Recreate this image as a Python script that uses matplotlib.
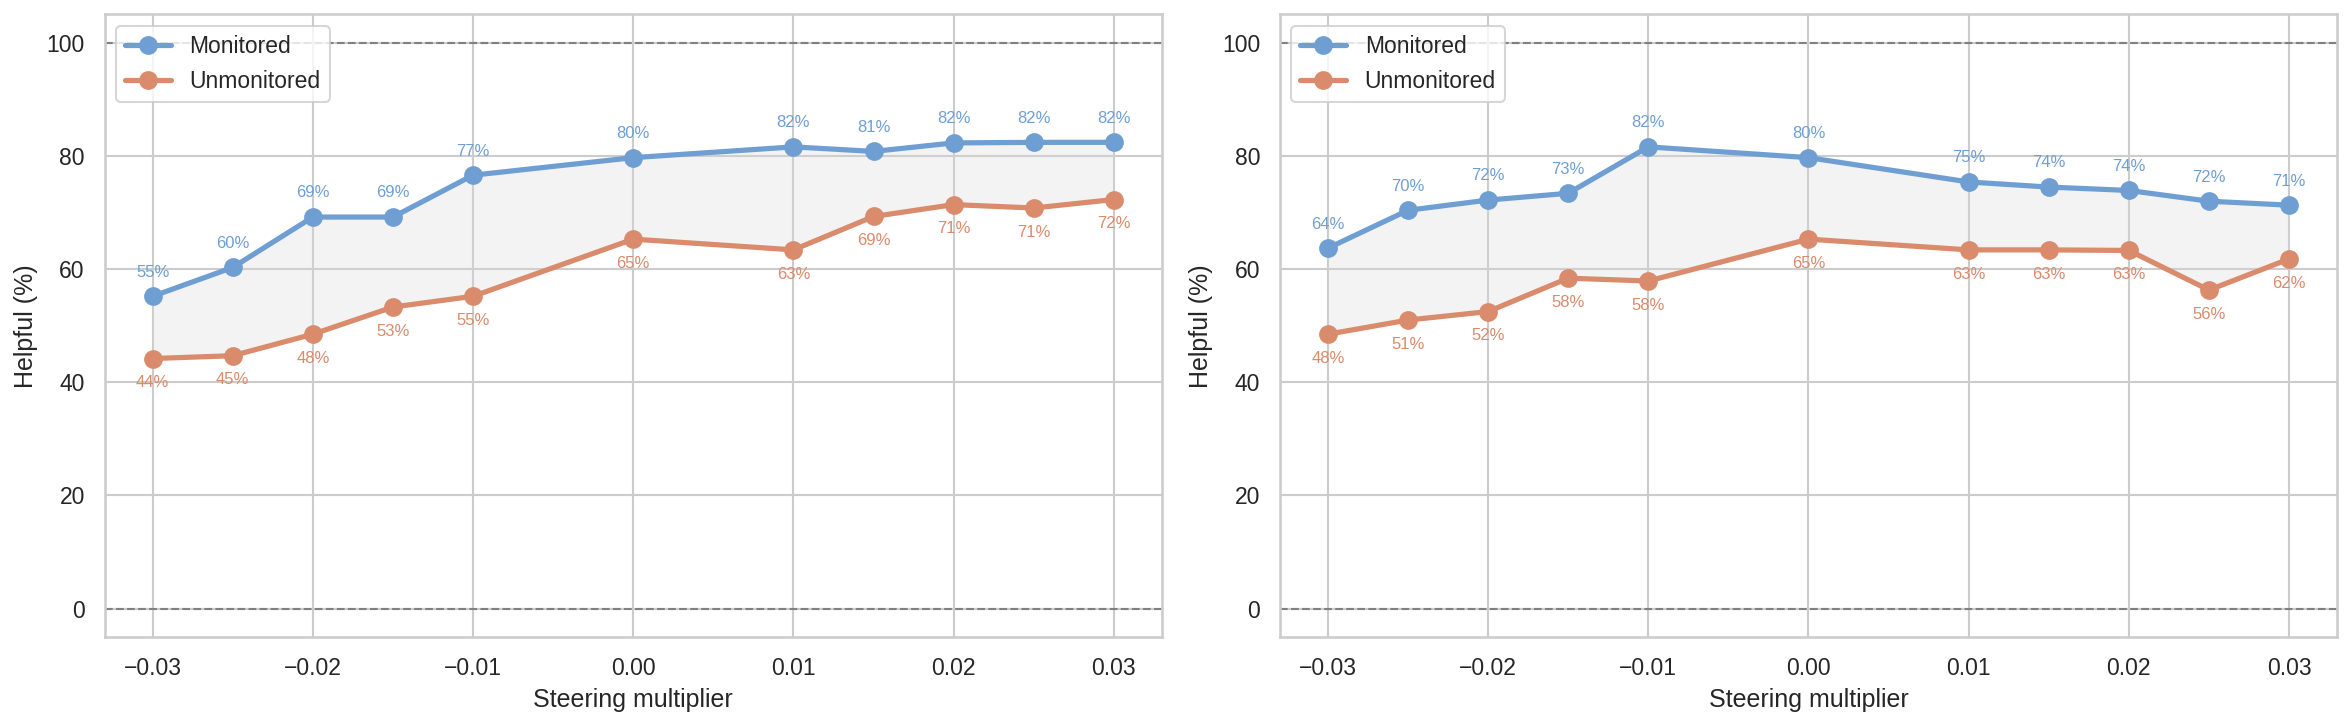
import matplotlib
matplotlib.use("Agg")
import matplotlib.pyplot as plt
import seaborn as sns

sns.set_theme(style="whitegrid")
plt.rcParams['font.family'] = ['Liberation Sans', 'DejaVu Sans']

# steering multipliers used on the x axis
multipliers = [-0.03, -0.025, -0.02, -0.015, -0.01, 0.0, 0.01, 0.015, 0.02, 0.025, 0.03]

# left panel
left_monitored = [55.2, 60.3, 69.2, 69.2, 76.6, 79.7, 81.6, 80.8, 82.3, 82.4, 82.4]
left_unmonitored = [44.2, 44.7, 48.5, 53.3, 55.2, 65.3, 63.4, 69.3, 71.4, 70.8, 72.3]

# right panel
right_monitored = [63.7, 70.4, 72.2, 73.4, 81.6, 79.7, 75.4, 74.5, 73.9, 72.0, 71.3]
right_unmonitored = [48.5, 51.0, 52.5, 58.4, 57.9, 65.3, 63.4, 63.4, 63.3, 56.3, 61.8]

blue = "#6f9fd2"
orange = "#d98b6c"

fig, axes = plt.subplots(1, 2, figsize=(15.667, 4.82), dpi=150)
fig.subplots_adjust(left=0.0445, right=0.9945, bottom=0.119, top=0.980, wspace=0.1116)

for ax, mon, unmon in zip(axes, [left_monitored, right_monitored],
                          [left_unmonitored, right_unmonitored]):
    ax.fill_between(multipliers, mon, unmon, color="#d9d9d9", alpha=0.3, lw=0)
    ax.plot(multipliers, mon, "-o", color=blue, lw=2.5, ms=8, label="Monitored")
    ax.plot(multipliers, unmon, "-o", color=orange, lw=2.5, ms=8, label="Unmonitored")
    for x, y in zip(multipliers, mon):
        ax.annotate(f"{y:.0f}%", (x, y), xytext=(0, 8), textcoords="offset points",
                    ha="center", va="bottom", fontsize=8, color=blue)
    for x, y in zip(multipliers, unmon):
        ax.annotate(f"{y:.0f}%", (x, y), xytext=(0, -8), textcoords="offset points",
                    ha="center", va="top", fontsize=8, color=orange)
    ax.axhline(0, color="gray", ls="--", lw=1)
    ax.axhline(100, color="gray", ls="--", lw=1)
    ax.set_ylim(-5, 105)
    ax.set_xticks([-0.03, -0.02, -0.01, 0.0, 0.01, 0.02, 0.03])
    ax.set_xlabel("Steering multiplier")
    ax.set_ylabel("Helpful (%)")
    ax.legend(loc="upper left")

plt.savefig("out.png")
